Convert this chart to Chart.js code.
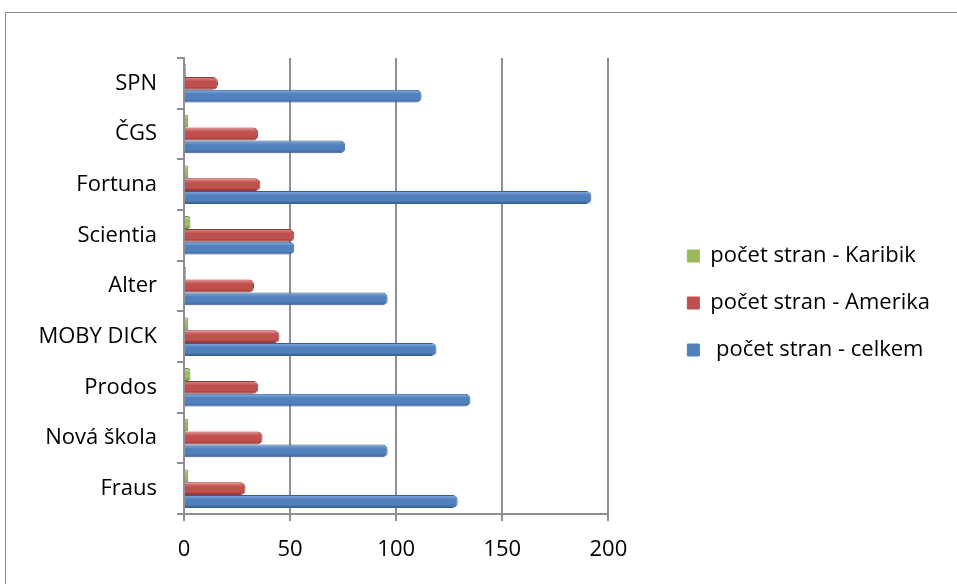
<!DOCTYPE html>
<html>
<head>
<meta charset="utf-8">
<script src="https://cdn.jsdelivr.net/npm/chart.js@4.4.1/dist/chart.umd.min.js"></script>
<style>
  body { margin: 0; background: #fff; }
  #wrap { position: relative; width: 957px; height: 584px; overflow: hidden; }
  #frame { position: absolute; left: 5px; top: 12px; width: 1000px; height: 640px; border: 1px solid #8c8c8c; }
  canvas { position: absolute; left: 0; top: 0; }
</style>
</head>
<body>
<div id="wrap">
  <div id="frame"></div>
  <canvas id="bookChart" width="957" height="584"></canvas>
</div>
<script>
//********************** data *******************************************
var publishers = ['SPN', 'ČGS', 'Fortuna', 'Scientia', 'Alter', 'MOBY DICK', 'Prodos', 'Nová škola', 'Fraus'];
var pagesKaribik = [1, 2, 2, 3, 1, 2, 3, 2, 2];
var pagesAmerika = [16, 35, 36, 52, 33, 45, 35, 37, 29];
var pagesCelkem  = [112, 76, 192, 52, 96, 119, 135, 96, 129];
var xTicks = [0, 50, 100, 150, 200];

var font = 'Open Sans, Liberation Sans, sans-serif';
var gridGray = '#8e8e8e';

// shaded "tube" look for the bars
var tubeShade = {
  id: 'tubeShade',
  beforeDatasetsDraw: function (chart) {
    var ctx = chart.ctx;
    var shades = [
      ['#c3dc8f', '#9BBB59', '#6e8a38'],
      ['#e08a87', '#C0504D', '#8a2f2d'],
      ['#85ace0', '#4F81BD', '#2f5b91']
    ];
    chart.data.datasets.forEach(function (ds, i) {
      chart.getDatasetMeta(i).data.forEach(function (bar) {
        var h = bar.height / 2;
        var g = ctx.createLinearGradient(0, bar.y - h, 0, bar.y + h);
        g.addColorStop(0, shades[i][0]);
        g.addColorStop(0.35, shades[i][1]);
        g.addColorStop(0.75, shades[i][1]);
        g.addColorStop(1, shades[i][2]);
        var o = Object.create(bar.options);
        o.backgroundColor = g;
        bar.options = o;
      });
    });
  }
};

function drawChart() {
  var canvas = document.getElementById('bookChart');
  new Chart(canvas, {
    type: 'bar',
    data: {
      labels: publishers,
      datasets: [
        { label: 'počet stran - Karibik', data: pagesKaribik, backgroundColor: '#9BBB59', borderColor: '#71893f' },
        { label: 'počet stran - Amerika', data: pagesAmerika, backgroundColor: '#C0504D', borderColor: '#8c3836' },
        { label: ' počet stran - celkem', data: pagesCelkem, backgroundColor: '#4F81BD', borderColor: '#385d8a' }
      ]
    },
    plugins: [tubeShade],
    options: {
      responsive: false,
      animation: false,
      indexAxis: 'y',
      // negative left padding gives the right-hand legend more room
      layout: { padding: { top: 22, bottom: 0, left: -300, right: 17 } },
      datasets: {
        bar: { categoryPercentage: 0.76, barPercentage: 1, borderWidth: 1, borderRadius: { topRight: 5, bottomRight: 5 }, borderSkipped: 'left' }
      },
      plugins: {
        tooltip: { enabled: false },
        legend: {
          position: 'right',
          maxWidth: 285,
          labels: {
            font: { family: font, size: 22 },
            color: '#000',
            boxWidth: 12,
            boxHeight: 12,
            padding: 25,
            generateLabels: function (chart) {
              return Chart.defaults.plugins.legend.labels.generateLabels(chart).map(function (l) {
                l.fillStyle = chart.data.datasets[l.datasetIndex].backgroundColor;
                l.strokeStyle = l.fillStyle;
                return l;
              });
            }
          }
        }
      },
      scales: {
        x: {
          min: 0,
          max: 200,
          afterBuildTicks: function (s) { s.ticks = xTicks.map(function (v) { return { value: v }; }); },
          afterFit: function (s) { s.height = 70; },
          grid: { color: gridGray, lineWidth: 2, tickLength: 7 },
          border: { color: gridGray, width: 2 },
          ticks: { font: { family: font, size: 22 }, color: '#000', padding: 16 }
        },
        xTop: {
          type: 'linear',
          position: 'top',
          display: false,
          afterFit: function (s) { s.height = 36; }
        },
        y: {
          afterFit: function (s) { s.width = 484; },
          grid: { drawOnChartArea: false, color: gridGray, lineWidth: 2, tickLength: 7 },
          border: { color: gridGray, width: 2 },
          ticks: { font: { family: font, size: 22 }, color: '#000', padding: 20 }
        },
        yRight: {
          type: 'linear',
          position: 'right',
          display: false,
          afterFit: function (s) { s.width = 54; }
        }
      }
    }
  });
}
drawChart();
</script>
</body>
</html>
